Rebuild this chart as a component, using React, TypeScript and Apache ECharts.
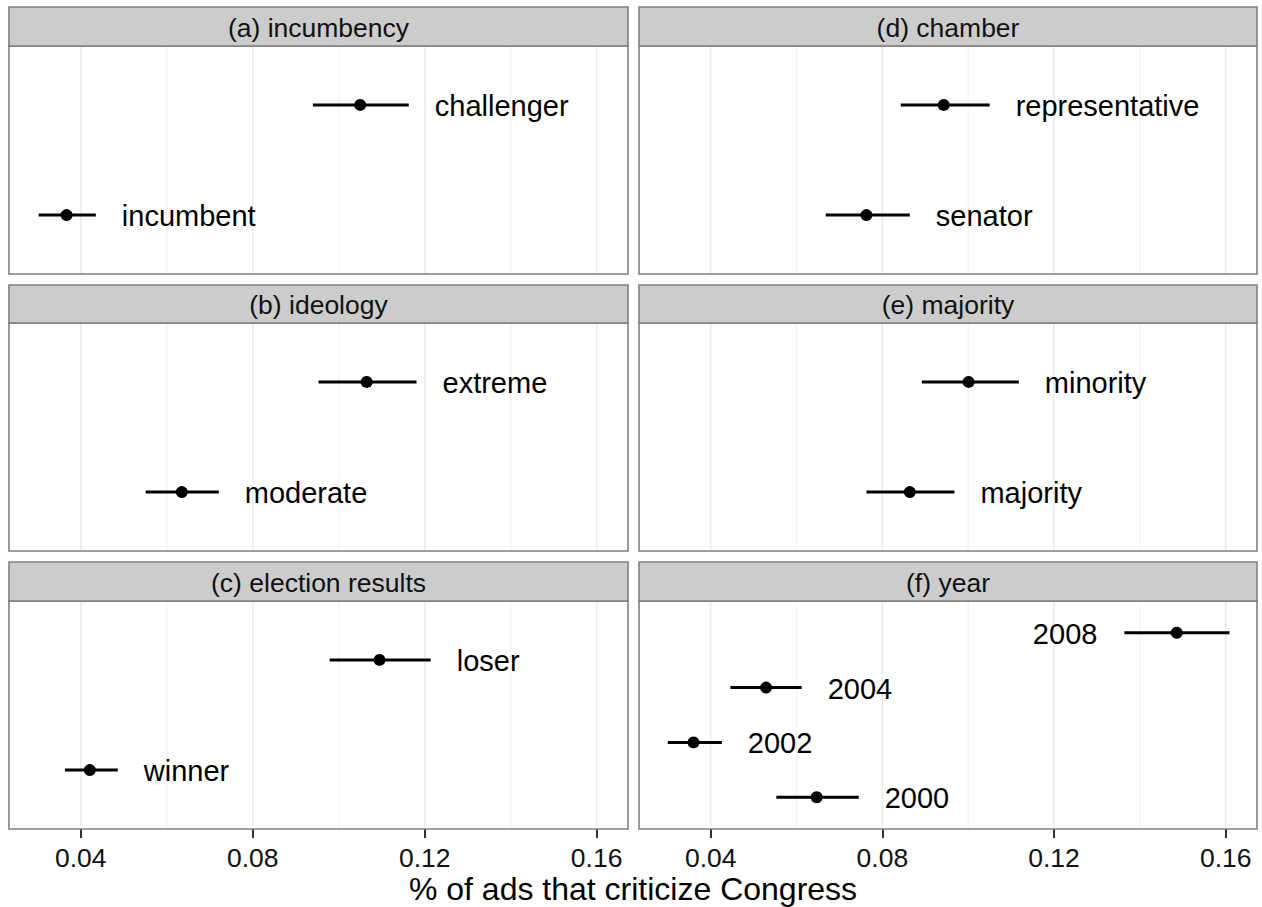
import React, { useEffect, useRef } from "react";
import * as echarts from "echarts";

// ---- data ----
const panelTitles = [
  "(a) incumbency",
  "(b) ideology",
  "(c) election results",
  "(d) chamber",
  "(e) majority",
  "(f) year",
];

// levels listed bottom-to-top
const levelsA = ["incumbent", "challenger"];
const estA = [0.0367, 0.105];
const loA = [0.0302, 0.094];
const hiA = [0.0435, 0.1163];

const levelsB = ["moderate", "extreme"];
const estB = [0.0635, 0.1065];
const loB = [0.0551, 0.0953];
const hiB = [0.0721, 0.1181];

const levelsC = ["winner", "loser"];
const estC = [0.0421, 0.1095];
const loC = [0.0363, 0.0979];
const hiC = [0.0486, 0.1214];

const levelsD = ["senator", "representative"];
const estD = [0.0763, 0.0943];
const loD = [0.0668, 0.0843];
const hiD = [0.0864, 0.105];

const levelsE = ["majority", "minority"];
const estE = [0.0864, 0.1001];
const loE = [0.0763, 0.0892];
const hiE = [0.0968, 0.1118];

const levelsF = ["2000", "2002", "2004", "2008"];
const estF = [0.0647, 0.036, 0.0529, 0.1486];
const loF = [0.0553, 0.03, 0.0446, 0.1364];
const hiF = [0.0745, 0.0426, 0.0612, 0.1609];
const labelSideF = ["right", "right", "right", "left"];

const xMin = 0.0233;
const xMax = 0.1673;
const tickValues = [0.04, 0.08, 0.12, 0.16];
const gridValues = [0.04, 0.06, 0.08, 0.1, 0.12, 0.14, 0.16];
const xTitle = "% of ads that criticize Congress";

const panels = [
  { levels: levelsA, est: estA, lo: loA, hi: hiA, sides: levelsA.map(() => "right") },
  { levels: levelsB, est: estB, lo: loB, hi: hiB, sides: levelsB.map(() => "right") },
  { levels: levelsC, est: estC, lo: loC, hi: hiC, sides: levelsC.map(() => "right") },
  { levels: levelsD, est: estD, lo: loD, hi: hiD, sides: levelsD.map(() => "right") },
  { levels: levelsE, est: estE, lo: loE, hi: hiE, sides: levelsE.map(() => "right") },
  { levels: levelsF, est: estF, lo: loF, hi: hiF, sides: labelSideF },
];

const FONT = "'Liberation Sans', Arial, Helvetica, sans-serif";

export default function App() {
  const ref = useRef<HTMLDivElement>(null);

  useEffect(() => {
    if (!ref.current) return;
    const chart = echarts.init(ref.current, undefined, { renderer: "svg" });

    const colLeft = [9, 639];
    const colWidth = [619, 618];
    const rowTop = [46, 323, 601];
    const bodyH = 228;
    const stripTop = [7, 285, 562];

    const grids: any[] = [];
    const xAxes: any[] = [];
    const yAxes: any[] = [];
    const series: any[] = [];
    const graphics: any[] = [];

    panels.forEach((p, i) => {
      const col = i < 3 ? 0 : 1;
      const row = i % 3;
      const left = colLeft[col];
      const width = colWidth[col];
      const top = rowTop[row];
      const bottomRow = row === 2;
      const exp = p.levels.length > 2 ? 0.58 : 0.535;
      grids.push({ left, top, width, height: bodyH, containLabel: false });
      xAxes.push({
        type: "value",
        gridIndex: i,
        min: xMin,
        max: xMax,
        axisLine: { show: false },
        splitLine: { show: false },
        axisTick: {
          show: bottomRow,
          customValues: tickValues,
          length: 9,
          lineStyle: { color: "#333333", width: 2 },
        },
        axisLabel: {
          show: bottomRow,
          customValues: tickValues,
          margin: 18,
          fontSize: 26.5,
          lineHeight: 22,
          color: "#111111",
          fontFamily: FONT,
          formatter: (v: number) => String(Number(v.toFixed(2))),
        },
      });
      yAxes.push({
        type: "value",
        gridIndex: i,
        min: 1 - exp,
        max: p.levels.length + exp,
        show: false,
      });

      // grid lines
      series.push({
        type: "custom",
        xAxisIndex: i,
        yAxisIndex: i,
        silent: true,
        z: 1,
        data: gridValues.map((v) => [v]),
        renderItem: (params: any, api: any) => {
          const v = api.value(0);
          const a = api.coord([v, 1 - exp]);
          const b = api.coord([v, p.levels.length + exp]);
          const major = tickValues.some((t) => Math.abs(t - v) < 1e-9);
          return {
            type: "line",
            shape: { x1: a[0], y1: a[1], x2: b[0], y2: b[1] },
            style: { stroke: major ? "#EBEBEB" : "#F2F2F2", lineWidth: major ? 1.6 : 1.2 },
          };
        },
      });

      // estimates with intervals
      series.push({
        type: "custom",
        xAxisIndex: i,
        yAxisIndex: i,
        z: 5,
        data: p.levels.map((_, k) => [p.lo[k], p.hi[k], p.est[k], k + 1]),
        renderItem: (params: any, api: any) => {
          const k = params.dataIndex;
          const lo = api.coord([api.value(0), api.value(3)]);
          const hi = api.coord([api.value(1), api.value(3)]);
          const mid = api.coord([api.value(2), api.value(3)]);
          const side = p.sides[k];
          return {
            type: "group",
            children: [
              {
                type: "line",
                shape: { x1: lo[0], y1: lo[1], x2: hi[0], y2: hi[1] },
                style: { stroke: "#000", lineWidth: 3 },
              },
              {
                type: "circle",
                shape: { cx: mid[0], cy: mid[1], r: 6 },
                style: { fill: "#000" },
              },
              {
                type: "text",
                x: side === "left" ? lo[0] - 27 : hi[0] + 26,
                y: mid[1] + 1,
                style: {
                  text: p.levels[k],
                  fontSize: 29,
                  fontFamily: FONT,
                  fill: "#000",
                  align: side === "left" ? "right" : "left",
                  verticalAlign: "middle",
                },
              },
            ],
          };
        },
      });

      // panel border
      graphics.push({
        type: "rect",
        shape: { x: left, y: top, width, height: bodyH },
        style: { fill: "none", stroke: "#7F7F7F", lineWidth: 1.6 },
        z: 100,
        silent: true,
      });
      // strip
      graphics.push({
        type: "rect",
        shape: { x: left, y: stripTop[row], width, height: top - stripTop[row] },
        style: { fill: "#CCCCCC", stroke: "#7F7F7F", lineWidth: 1.6 },
        z: 100,
        silent: true,
      });
      graphics.push({
        type: "text",
        x: left + width / 2,
        y: (stripTop[row] + top) / 2 + 1,
        style: {
          text: panelTitles[i],
          fontSize: 26.5,
          fontFamily: FONT,
          fill: "#111111",
          align: "center",
          verticalAlign: "middle",
        },
        z: 101,
        silent: true,
      });
    });

    graphics.push({
      type: "text",
      x: 633,
      y: 889,
      style: {
        text: xTitle,
        fontSize: 32,
        lineHeight: 28,
        fontFamily: FONT,
        fill: "#000",
        align: "center",
        verticalAlign: "middle",
      },
      silent: true,
    });

    chart.setOption({
      animation: false,
      backgroundColor: "#ffffff",
      textStyle: { fontFamily: FONT },
      grid: grids,
      xAxis: xAxes,
      yAxis: yAxes,
      series,
      graphic: graphics,
    });

    return () => chart.dispose();
  }, []);

  return (
    <div
      ref={ref}
      style={{ position: "absolute", left: 0, top: 0, width: 1262, height: 907 }}
    />
  );
}
